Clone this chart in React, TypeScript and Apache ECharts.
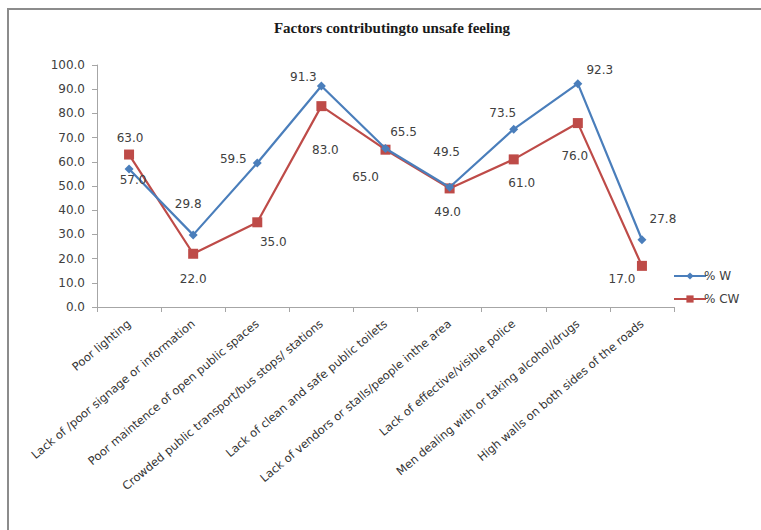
import React, { useEffect, useRef } from "react";
import * as echarts from "echarts";

const categories = [
  "Poor lighting",
  "Lack of /poor signage or information",
  "Poor maintence of open public spaces",
  "Crowded public transport/bus stops/ stations",
  "Lack of clean and safe public toilets",
  "Lack of vendors or stalls/people inthe area",
  "Lack of effective/visible police",
  "Men dealing with or taking alcohol/drugs",
  "High walls on both sides of the roads",
];

const seriesW = [57.0, 29.8, 59.5, 91.3, 65.5, 49.5, 73.5, 92.3, 27.8];
const seriesCW = [63.0, 22.0, 35.0, 83.0, 65.0, 49.0, 61.0, 76.0, 17.0];

// per-point label offsets (px) relative to the marker centre
const offsetsW: [number, number][] = [
  [4, 11], [-5, -31], [-24, -4], [-18, -9], [18, -16], [-3, -35], [-11, -16], [22, -14], [21, -21],
];
const offsetsCW: [number, number][] = [
  [1, -17], [0, 25], [16, 20], [4, 44], [-20, 27], [-2, 24], [8, 24], [-3, 33], [-20, 13],
];

const labelFont = "'DejaVu Sans', 'Liberation Sans', sans-serif";

function withLabels(values: number[], offs: [number, number][]) {
  return values.map((v, i) => ({
    value: v,
    label: { offset: offs[i] },
  }));
}

export default function App() {
  const ref = useRef<HTMLDivElement>(null);

  useEffect(() => {
    if (!ref.current) return;
    const chart = echarts.init(ref.current, undefined, { renderer: "svg" });
    chart.setOption({
      animation: false,
      backgroundColor: "#ffffff",
      title: {
        text: "Factors contributingto unsafe feeling",
        left: 387,
        top: 15,
        textAlign: "center",
        textStyle: {
          fontFamily: "'Liberation Serif', 'DejaVu Serif', serif",
          fontWeight: "bold",
          fontSize: 15,
          color: "#1a1a1a",
        },
      },
      graphic: [
        {
          type: "line",
          shape: { x1: 7, y1: 9, x2: 761, y2: 9 },
          style: { stroke: "#8c8c8c", lineWidth: 2 },
        },
        {
          type: "line",
          shape: { x1: 8, y1: 9, x2: 8, y2: 530 },
          style: { stroke: "#8c8c8c", lineWidth: 2 },
        },
      ],
      legend: {
        orient: "vertical",
        left: 668,
        top: 265,
        itemWidth: 32,
        itemHeight: 9,
        itemGap: 11,
        textStyle: {
          fontFamily: labelFont,
          fontSize: 12,
          color: "#404040",
          padding: [0, 0, 0, -7],
        },
        data: ["% W", "% CW"],
      },
      grid: {
        left: 97,
        right: 87,
        top: 65,
        bottom: 223,
        containLabel: false,
      },
      xAxis: {
        type: "category",
        data: categories,
        boundaryGap: true,
        axisLine: { lineStyle: { color: "#a6a6a6", width: 1 } },
        axisTick: { show: true, interval: 0, length: 5, lineStyle: { color: "#a6a6a6" } },
        axisLabel: {
          interval: 0,
          rotate: 40,
          margin: 15,
          fontFamily: labelFont,
          fontSize: 11.5,
          color: "#333333",
        },
      },
      yAxis: {
        type: "value",
        min: 0,
        max: 100,
        interval: 10,
        splitLine: { show: false },
        axisLine: { show: true, lineStyle: { color: "#a6a6a6", width: 1 } },
        axisTick: { show: true, length: 5, lineStyle: { color: "#a6a6a6" } },
        axisLabel: {
          margin: 12,
          fontFamily: labelFont,
          fontSize: 12,
          color: "#404040",
          formatter: (v: number) => v.toFixed(1),
        },
      },
      series: [
        {
          name: "% W",
          type: "line",
          data: withLabels(seriesW, offsetsW),
          color: "#4a7ebb",
          symbol: "diamond",
          symbolSize: 9,
          lineStyle: { width: 2.2, color: "#4a7ebb" },
          itemStyle: { color: "#4a7ebb" },
          label: {
            show: true,
            position: "inside",
            fontFamily: labelFont,
            fontSize: 12,
            color: "#404040",
            formatter: (p: any) => Number(p.value).toFixed(1),
          },
          z: 3,
        },
        {
          name: "% CW",
          type: "line",
          data: withLabels(seriesCW, offsetsCW),
          color: "#be4b48",
          symbol: "rect",
          symbolSize: 10,
          lineStyle: { width: 2.2, color: "#be4b48" },
          itemStyle: { color: "#be4b48" },
          label: {
            show: true,
            position: "inside",
            fontFamily: labelFont,
            fontSize: 12,
            color: "#404040",
            formatter: (p: any) => Number(p.value).toFixed(1),
          },
          z: 2,
        },
      ],
    });
    return () => chart.dispose();
  }, []);

  return (
    <div
      ref={ref}
      style={{ position: "absolute", left: 0, top: 0, width: 761, height: 530 }}
    />
  );
}
